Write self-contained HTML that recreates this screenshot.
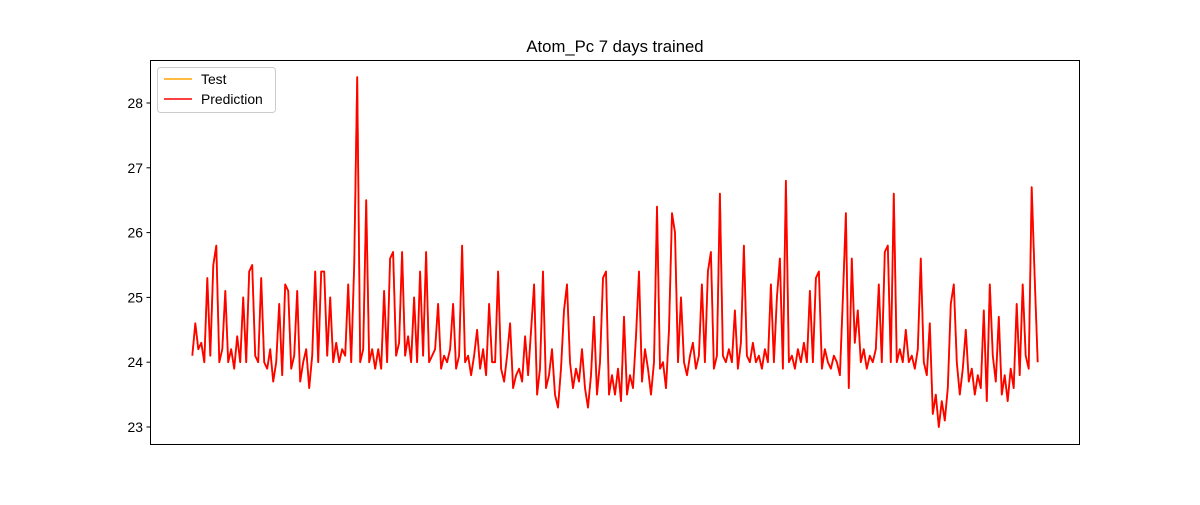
<!DOCTYPE html>
<html><head><meta charset="utf-8"><style>
body{margin:0;background:#fff;}
svg text{font-family:"Liberation Sans","DejaVu Sans",sans-serif;}
</style></head><body>
<svg id="chart" width="1200" height="500">
<rect x="0" y="0" width="1200" height="500" fill="#fff"/>
<text x="615" y="52" font-size="16.7" text-anchor="middle">Atom_Pc 7 days trained</text>
<g id="yticks"></g>
<g id="series"></g>
<rect x="150.5" y="60.5" width="929" height="384" fill="none" stroke="#000" stroke-width="1"/>
<g>
<rect x="157.5" y="67.5" width="118" height="45" rx="3" fill="#fff" fill-opacity="0.8" stroke="#ccc"/>
<line x1="164" y1="79" x2="192" y2="79" stroke="orange" stroke-width="1.5"/>
<text x="201" y="84" font-size="13.9">Test</text>
<line x1="164" y1="99" x2="192" y2="99" stroke="red" stroke-width="1.5"/>
<text x="201" y="104" font-size="13.9">Prediction</text>
</g>
</svg>
<script>
const yTicks=[23,24,25,26,27,28];
const vals=[24.1,24.6,24.2,24.3,24.0,25.3,24.1,25.5,25.8,24.0,24.2,25.1,24.0,24.2,23.9,24.4,24.0,25.0,24.0,25.4,
25.5,24.1,24.0,25.3,24.0,23.9,24.2,23.7,24.0,24.9,23.8,25.2,25.1,23.9,24.1,25.1,23.7,24.0,24.2,23.6,
24.1,25.4,24.0,25.4,25.4,24.1,25.0,24.0,24.3,24.0,24.2,24.1,25.2,24.0,25.5,28.4,24.0,24.2,26.5,24.0,
24.2,23.9,24.2,23.9,25.1,24.0,25.6,25.7,24.1,24.3,25.7,24.1,24.4,24.0,25.0,24.0,25.4,24.1,25.7,24.0,
24.1,24.2,24.9,23.9,24.1,24.0,24.2,24.9,23.9,24.1,25.8,24.0,24.1,23.8,24.1,24.5,23.9,24.2,23.8,24.9,
24.0,24.0,25.4,23.9,23.7,24.1,24.6,23.6,23.8,23.9,23.7,24.4,23.8,24.5,25.2,23.5,23.9,25.4,23.6,23.8,
24.2,23.5,23.3,23.9,24.8,25.2,24.0,23.6,23.9,23.7,24.2,23.6,23.3,23.8,24.7,23.5,24.0,25.3,25.4,23.5,
23.8,23.5,23.9,23.4,24.7,23.5,23.8,23.6,24.4,25.4,23.7,24.2,23.9,23.5,24.0,26.4,23.9,24.0,23.6,24.5,
26.3,26.0,24.0,25.0,24.0,23.8,24.1,24.3,23.9,24.1,25.2,24.0,25.4,25.7,23.9,24.1,26.6,24.1,24.0,24.2,
24.0,24.8,23.9,24.3,25.8,24.1,24.0,24.3,24.0,24.1,23.9,24.2,24.0,25.2,24.0,25.0,25.6,23.9,26.8,24.0,
24.1,23.9,24.2,24.0,24.3,24.0,25.1,24.0,25.3,25.4,23.9,24.2,24.0,23.9,24.1,24.0,23.8,25.0,26.3,23.6,
25.6,24.3,24.8,24.0,24.2,23.9,24.1,24.0,24.2,25.2,24.0,25.7,25.8,24.0,26.6,24.0,24.2,24.0,24.5,24.0,
24.1,23.9,24.2,25.6,24.0,23.8,24.6,23.2,23.5,23.0,23.4,23.1,23.6,24.9,25.2,24.0,23.5,23.9,24.5,23.7,
23.9,23.5,23.8,23.6,24.8,23.4,25.2,24.1,23.7,24.7,23.5,23.8,23.4,23.9,23.6,24.9,23.8,25.2,24.1,23.9,
26.7,25.3,24.0];
const X0=150,X1=1080;
const n=vals.length-1,pad=n*0.05;
function xs(i){return X0+(i+pad)/(n+2*pad)*(X1-X0);}
function ys(v){return 427-(v-23)*64.8;}
const ns='http://www.w3.org/2000/svg';
const yg=document.getElementById('yticks');
yTicks.forEach(v=>{
 const y=ys(v);
 const l=document.createElementNS(ns,'line');
 l.setAttribute('x1',X0-3.5);l.setAttribute('x2',X0);l.setAttribute('y1',y);l.setAttribute('y2',y);l.setAttribute('stroke','#000');
 
 
 yg.appendChild(l);
 const t=document.createElementNS(ns,'text');
 t.setAttribute('x',X0-7);t.setAttribute('y',y+5);t.setAttribute('font-size','13.9');t.setAttribute('text-anchor','end');
 t.textContent=v;
 
 
 yg.appendChild(t);
});
const d=vals.map((v,i)=>(i?'L':'M')+xs(i).toFixed(1)+','+ys(v).toFixed(1)).join(' ');
const sg=document.getElementById('series');
[['orange','test-line'],['red','prediction-line']].forEach(([c,nm])=>{
 const p=document.createElementNS(ns,'path');
 p.setAttribute('d',d);p.setAttribute('fill','none');p.setAttribute('stroke',c);p.setAttribute('stroke-width','1.8');p.setAttribute('stroke-linejoin','round');
 
 
 sg.appendChild(p);
});
</script>
</body></html>
